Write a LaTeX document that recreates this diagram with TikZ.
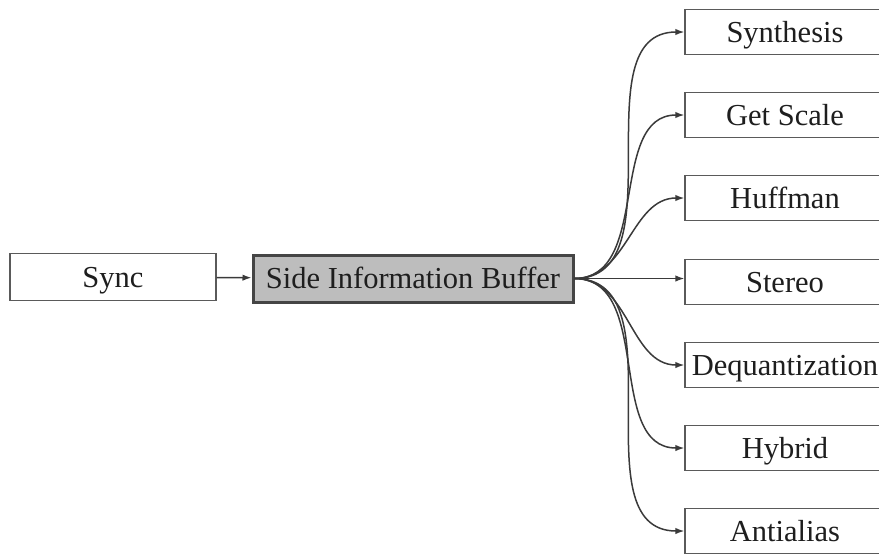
\documentclass[tikz,border=0pt]{standalone}
\usepackage{fontspec}
\setmainfont{Liberation Serif}
\usetikzlibrary{arrows.meta}
\definecolor{edgegray}{HTML}{5A5A5A}
\definecolor{linkgray}{HTML}{3A3A3A}
\definecolor{bufferfill}{HTML}{BDBDBD}
\definecolor{bufferedge}{HTML}{454545}
\definecolor{inkgray}{HTML}{1E1E1E}
\tikzset{
  stage/.style={draw=edgegray, line width=0.6pt, fill=white, text=inkgray,
    minimum height=22.5pt, inner sep=0pt, text height=10pt, text depth=0pt,
    font=\fontsize{15.25}{18}\selectfont},
  bufferbox/.style={stage, draw=bufferedge, line width=1.5pt, fill=bufferfill,
    minimum width=160pt, minimum height=23.5pt},
  syncbox/.style={stage, minimum width=103pt, minimum height=23.5pt},
  unitbox/.style={stage, minimum width=100pt},
  link/.style={draw=linkgray, line width=0.75pt,
    -{Latex[length=4.5pt,width=3.2pt]}}
}
\begin{document}
\begin{tikzpicture}[x=0.5pt, y=-0.5pt]
  \useasboundingbox (0,0) rectangle (879,554);
  \clip (0,0) rectangle (879,554);
  \fill[white] (0,0) rectangle (879,554);

  % source and buffer
  \node[syncbox]   (sync) at (113,277) {Sync};
  \node[bufferbox] (buf)  at (413,278.5) {Side Information Buffer};

  % consumers of the side information
  \node[unitbox] (syn)  at (785,32)  {Synthesis};
  \node[unitbox] (gsc)  at (785,115) {Get Scale};
  \node[unitbox] (huf)  at (785,198) {Huffman};
  \node[unitbox] (ste)  at (785,282) {Stereo};
  \node[unitbox] (deq)  at (785,365) {Dequantization};
  \node[unitbox] (hyb)  at (785,448) {Hybrid};
  \node[unitbox] (ant)  at (785,531) {Antialias};

  \draw[link] (sync) -- (buf);
  \foreach \t in {syn,gsc,huf,deq,hyb,ant}
    \draw[link] (buf.east) to[out=0,in=180] (\t.west);
  \draw[link] (buf.east) -- (ste.west |- buf.east);
\end{tikzpicture}
\end{document}
